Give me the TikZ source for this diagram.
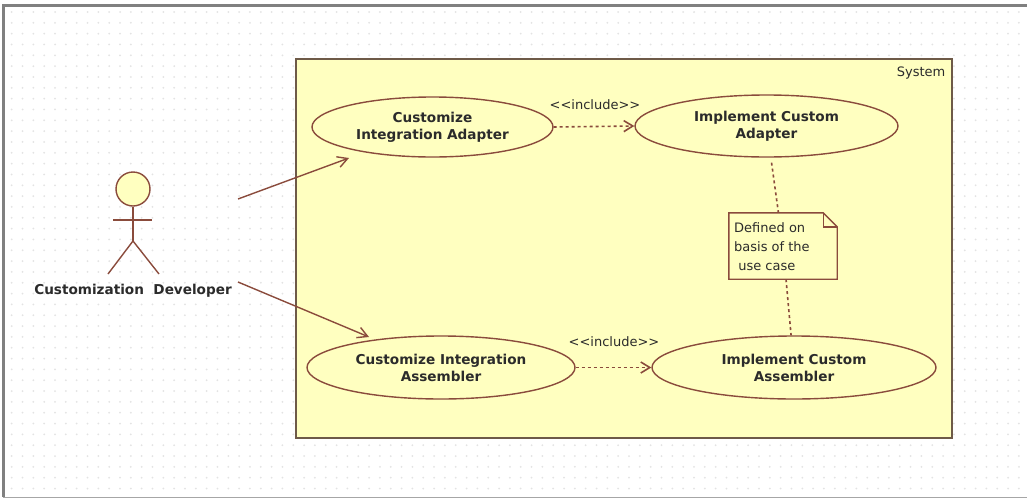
\documentclass[tikz,border=0pt]{standalone}
\usepackage{fontspec}
\setmainfont{DejaVu Sans}
\usetikzlibrary{arrows.meta}
\usetikzlibrary{shapes.geometric}
\definecolor{uml_line}{HTML}{8A4B3C}
\definecolor{uml_box}{HTML}{6E5A48}
\definecolor{uml_fill}{HTML}{FFFFC0}
\definecolor{uml_text}{HTML}{2B2B2B}
\tikzset{
    umlnode/.style = {align=center, inner sep=0pt, text centered, text=uml_text},
    use_case/.style = {umlnode, ellipse, draw=uml_line, fill=uml_fill, line width=1.4pt, font=\fontsize{13.6}{17}\selectfont\bfseries},
    small_text/.style = {umlnode, font=\fontsize{13}{19.3}\selectfont},
    actor_line/.style = {draw=uml_line, line width=1.4pt},
    assoc/.style = {actor_line, -{Straight Barb[length=10pt,width=11pt]}},
    include/.style = {actor_line, line width=1.6pt, dash pattern=on 3pt off 3pt, -{Straight Barb[length=9pt,width=11pt]}},
    anchor_line/.style = {actor_line, line width=1.6pt, dash pattern=on 3pt off 3pt}
}
\begin{document}
\begin{tikzpicture}[x=1pt,y=-1pt]
    \useasboundingbox (0,0) rectangle (1027,498);
    % page with its dotted grid
    \fill[white] (0,0) rectangle (1027,498);
    \foreach \i in {0,...,93} {
        \foreach \j in {0,...,44} {
            \fill[black!11] (11.7+10.83*\i,12+10.83*\j) circle (1);
        }
    }
    \draw[black!50, line width=3pt] (3,497) -- (3,5) -- (1027,5);
    \draw[black!35, line width=1pt] (3,497) -- (1027,497);
    % system boundary
    \node (system) [draw=uml_box, fill=uml_fill, line width=1.8pt, minimum width=656, minimum height=379, inner sep=0pt] at (624,248.5) {};
    \node (system_name) [small_text, anchor=east] at (945.5,73) {System};
    % use cases
    \node (cust_adapter) [use_case, minimum width=241, minimum height=60] at (432.5,127) {Customize\\Integration Adapter};
    \node (impl_adapter) [use_case, minimum width=263, minimum height=62] at (766.5,126) {Implement Custom\\Adapter};
    \node (cust_assembler) [use_case, minimum width=268, minimum height=63] at (441,367.5) {Customize Integration\\Assembler};
    \node (impl_assembler) [use_case, minimum width=284, minimum height=63] at (794,367.5) {Implement Custom\\Assembler};
    % actor
    \node (head) [circle, draw=uml_line, fill=uml_fill, line width=1.4pt, minimum size=34, inner sep=0pt] at (133,189) {};
    \coordinate (hip) at (133,241);
    \draw[actor_line] (head) -- (hip);
    \draw[actor_line] (113,220) -- (152,220);
    \draw[actor_line] (108,274) -- (hip) -- (159,274);
    \node (actor_name) [umlnode, font=\fontsize{13.6}{14}\selectfont\bfseries] at (133,291) {Customization\ \ Developer};
    \coordinate (actor_top) at (238,199);
    \coordinate (actor_low) at (238,282);
    \coordinate (assoc_top) at (349,158);
    \coordinate (assoc_low) at (369,337);
    \draw[assoc] (actor_top) -- (assoc_top);
    \draw[assoc] (actor_low) -- (assoc_low);
    % include arrows
    \draw[include] (cust_adapter.east) -- (impl_adapter.west);
    \draw[include] (cust_assembler.east) -- (impl_assembler.west);
    \node (include_top) [small_text] at (595,105) {<{}<include>{}>};
    \node (include_low) [small_text] at (614,342) {<{}<include>{}>};
    % note
    \node (note) [minimum width=108, minimum height=66, inner sep=0pt] at (783,246) {};
    \draw[actor_line, fill=uml_fill] (note.north west) -- ([xshift=-14pt]note.north east) -- ([yshift=-14pt]note.north east) -- (note.south east) -- (note.south west) -- cycle;
    \draw[actor_line] ([xshift=-14pt]note.north east) -- ++(0,14) -- ([yshift=-14pt]note.north east);
    \node (note_text) [small_text, align=left, anchor=west] at (734,246.5) {Defined on\\basis of the\\\ use case};
    \draw[anchor_line, shorten <=5pt] (impl_adapter) -- (note);
    \draw[anchor_line] (note) -- (impl_assembler);
\end{tikzpicture}
\end{document}
